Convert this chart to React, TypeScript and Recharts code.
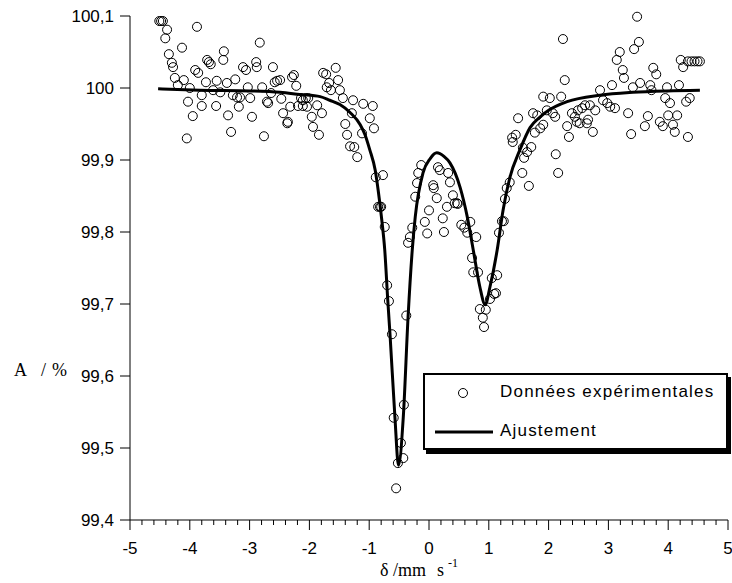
import { ComposedChart, Label, Legend, Line, Scatter, XAxis, YAxis } from "recharts";

// Spectre Mössbauer : points mesurés (δ en mm/s, A en %)
const EXP_POINTS: [number, number][] = [
  [-4.51, 100.093], [-4.48, 100.093], [-4.45, 100.093], [-4.41, 100.069], [-4.38, 100.081],
  [-4.35, 100.047], [-4.3, 100.035], [-4.28, 100.029], [-4.25, 100.014], [-4.2, 100.004],
  [-4.13, 100.056], [-4.1, 100.011], [-4.05, 99.93], [-4.03, 99.981], [-4.0, 100.0],
  [-3.95, 99.961], [-3.91, 100.025], [-3.88, 100.085], [-3.86, 100.021], [-3.8, 99.99],
  [-3.8, 99.975], [-3.73, 100.008], [-3.71, 100.039], [-3.68, 100.036], [-3.65, 100.033],
  [-3.61, 99.997], [-3.56, 99.975], [-3.55, 100.01], [-3.49, 99.994], [-3.44, 100.039],
  [-3.43, 100.051], [-3.38, 100.007], [-3.36, 99.962], [-3.31, 99.939], [-3.28, 99.99],
  [-3.24, 100.012], [-3.21, 99.987], [-3.18, 99.974], [-3.16, 99.987], [-3.11, 100.029],
  [-3.06, 100.025], [-3.03, 100.001], [-2.99, 99.986], [-2.96, 99.96], [-2.89, 100.036],
  [-2.88, 100.029], [-2.83, 100.063], [-2.79, 100.001], [-2.76, 99.933], [-2.71, 99.981],
  [-2.69, 99.979], [-2.64, 99.993], [-2.61, 100.029], [-2.58, 100.008], [-2.54, 100.01],
  [-2.49, 100.011], [-2.47, 99.985], [-2.44, 99.965], [-2.37, 99.951], [-2.36, 99.953],
  [-2.32, 99.974], [-2.29, 100.015], [-2.26, 100.018], [-2.22, 100.003], [-2.19, 99.975],
  [-2.14, 99.986], [-2.11, 99.983], [-2.11, 99.975], [-2.06, 99.986], [-2.04, 99.974],
  [-2.02, 99.986], [-1.96, 99.96], [-1.94, 99.946], [-1.87, 99.976], [-1.84, 99.935],
  [-1.79, 99.965], [-1.77, 100.021], [-1.72, 100.019], [-1.71, 100.001], [-1.67, 100.007],
  [-1.64, 99.997], [-1.56, 100.028], [-1.52, 100.011], [-1.49, 99.997], [-1.44, 99.986],
  [-1.4, 99.95], [-1.37, 99.935], [-1.32, 99.919], [-1.29, 99.965], [-1.27, 99.983],
  [-1.25, 99.918], [-1.2, 99.904], [-1.12, 99.937], [-1.1, 99.978], [-0.99, 99.958],
  [-0.94, 99.975], [-0.92, 99.944], [-0.89, 99.876], [-0.85, 99.835], [-0.82, 99.835],
  [-0.8, 99.835], [-0.77, 99.879], [-0.74, 99.807], [-0.7, 99.726], [-0.67, 99.704],
  [-0.62, 99.658], [-0.59, 99.542], [-0.55, 99.444], [-0.52, 99.479], [-0.47, 99.507],
  [-0.43, 99.486], [-0.42, 99.56], [-0.38, 99.684], [-0.35, 99.785], [-0.32, 99.793],
  [-0.28, 99.806], [-0.23, 99.849], [-0.2, 99.868], [-0.18, 99.882], [-0.13, 99.893],
  [-0.07, 99.814], [-0.03, 99.798], [0.0, 99.83], [0.07, 99.865], [0.08, 99.861],
  [0.13, 99.847], [0.15, 99.89], [0.18, 99.886], [0.23, 99.819], [0.25, 99.8],
  [0.3, 99.835], [0.32, 99.882], [0.35, 99.869], [0.4, 99.851], [0.43, 99.84],
  [0.47, 99.84], [0.48, 99.839], [0.54, 99.81], [0.59, 99.806], [0.64, 99.799],
  [0.69, 99.814], [0.72, 99.764], [0.74, 99.744], [0.79, 99.793], [0.82, 99.744],
  [0.85, 99.693], [0.9, 99.681], [0.92, 99.668], [0.95, 99.692], [1.02, 99.707],
  [1.05, 99.736], [1.09, 99.714], [1.12, 99.715], [1.14, 99.74], [1.17, 99.799],
  [1.22, 99.815], [1.25, 99.815], [1.27, 99.846], [1.3, 99.861], [1.35, 99.869],
  [1.39, 99.931], [1.4, 99.925], [1.45, 99.935], [1.49, 99.958], [1.56, 99.882],
  [1.57, 99.917], [1.59, 99.903], [1.64, 99.911], [1.67, 99.864], [1.71, 99.918],
  [1.74, 99.965], [1.77, 99.938], [1.81, 99.962], [1.86, 99.944], [1.91, 99.949],
  [1.91, 99.988], [1.97, 99.969], [2.02, 99.986], [2.07, 99.965], [2.11, 99.96],
  [2.12, 99.908], [2.16, 99.882], [2.21, 99.988], [2.24, 100.068], [2.27, 100.011],
  [2.31, 99.947], [2.34, 99.932], [2.39, 99.965], [2.44, 99.96], [2.47, 99.953],
  [2.49, 99.969], [2.52, 99.951], [2.56, 99.972], [2.61, 99.976], [2.64, 99.951],
  [2.66, 99.956], [2.69, 99.976], [2.74, 99.939], [2.78, 99.969], [2.86, 99.997],
  [2.91, 99.983], [2.98, 99.979], [3.03, 99.974], [3.06, 100.004], [3.11, 99.972],
  [3.14, 100.039], [3.19, 100.05], [3.24, 100.025], [3.26, 100.014], [3.33, 99.965],
  [3.38, 99.936], [3.41, 100.001], [3.43, 100.054], [3.48, 100.099], [3.51, 100.064],
  [3.53, 100.007], [3.61, 99.947], [3.66, 99.961], [3.7, 100.004], [3.72, 99.997],
  [3.75, 100.028], [3.8, 100.019], [3.86, 99.953], [3.91, 99.947], [3.95, 99.986],
  [3.98, 100.001], [4.0, 99.962], [4.03, 99.979], [4.08, 99.949], [4.11, 99.939],
  [4.15, 99.962], [4.18, 100.004], [4.21, 100.039], [4.25, 100.029], [4.3, 99.981],
  [4.33, 99.932], [4.36, 99.986], [4.33, 100.037], [4.39, 100.037], [4.44, 100.037],
  [4.49, 100.037], [4.53, 100.037],
];

// courbe d'ajustement
const FIT_DELTA = [
  -4.53, -3.83, -3.0, -2.49, -2.16, -1.82, -1.66, -1.49, -1.32, -1.15, -1.07, -0.99, -0.9,
  -0.85, -0.79, -0.74, -0.69, -0.65, -0.57, -0.51, -0.43, -0.35, -0.28, -0.23, -0.1, 0.02,
  0.13, 0.25, 0.35, 0.52, 0.64, 0.74, 0.85, 0.94, 1.02, 1.14, 1.24, 1.35, 1.52, 1.69, 1.86,
  2.02, 2.31, 2.86, 3.41, 3.98, 4.53,
];
const FIT_A = [
  99.999, 99.997, 99.996, 99.994, 99.991, 99.988, 99.983, 99.977, 99.966, 99.949, 99.935,
  99.914, 99.886, 99.858, 99.817, 99.775, 99.706, 99.655, 99.543, 99.476, 99.543, 99.682,
  99.775, 99.821, 99.882, 99.902, 99.91, 99.905, 99.896, 99.862, 99.821, 99.775, 99.724,
  99.699, 99.724, 99.775, 99.831, 99.875, 99.914, 99.945, 99.96, 99.97, 99.981, 99.99,
  99.994, 99.996, 99.997,
];

const X_MAJOR = [-5, -4, -3, -2, -1, 0, 1, 2, 3, 4, 5];
const X_TICKS = X_MAJOR.flatMap((v, i) =>
  i === X_MAJOR.length - 1 ? [v] : [v, v + 0.2, v + 0.4, v + 0.6, v + 0.8]
);
const Y_TICKS = [99.4, 99.5, 99.6, 99.7, 99.8, 99.9, 100, 100.1];

const SANS = "'Liberation Sans', Arial, sans-serif";
const SERIF = "'Liberation Serif', 'Times New Roman', serif";

const expData = EXP_POINTS.map(([x, y]) => ({ x, y }));
const fitData = FIT_DELTA.map((x, i) => ({ x, y: FIT_A[i] }));

const XTick = ({ x, y, payload }: any) => {
  const v = payload.value;
  const major = Math.abs(v - Math.round(v)) < 1e-6;
  return (
    <g>
      <line x1={x} x2={x} y1={y} y2={y + (major ? 10 : 5)} stroke="#000" />
      {major && (
        <text x={x} y={y + 34} textAnchor="middle" fontSize={17} fontFamily={SANS} fill="#000">
          {Math.round(v)}
        </text>
      )}
    </g>
  );
};

const Circle = ({ cx, cy }: any) => <circle cx={cx} cy={cy} r={4.5} fill="none" stroke="#000" strokeWidth={1} />;

const LegendBox = () => (
  <div
    style={{
      position: "relative",
      width: 301,
      height: 73,
      border: "2px solid #000",
      boxShadow: "3px 4px 0 #000",
      background: "#fff",
      fontFamily: SANS,
      fontSize: 17,
      letterSpacing: 1.2,
      color: "#000",
    }}
  >
    <svg width={80} height={73} style={{ position: "absolute", left: 0, top: 0 }}>
      <circle cx={38} cy={18} r={4.5} fill="none" stroke="#000" />
      <line x1={10} x2={68} y1={57} y2={57} stroke="#000" strokeWidth={3} />
    </svg>
    <span style={{ position: "absolute", left: 75, top: 7, whiteSpace: "nowrap" }}>Données expérimentales</span>
    <span style={{ position: "absolute", left: 75, top: 46, whiteSpace: "nowrap" }}>Ajustement</span>
  </div>
);

export default function App() {
  return (
    <div style={{ position: "absolute", left: 0, top: 0 }}>
      <ComposedChart width={732} height={583} margin={{ top: 16, right: 4, bottom: 0, left: 0 }}>
        <XAxis
          dataKey="x"
          type="number"
          domain={[-5, 5]}
          ticks={X_TICKS}
          interval={0}
          height={63}
          tickSize={0}
          tickMargin={0}
          tick={<XTick />}
          stroke="#000"
        >
          <Label
            content={() => (
              <text y={576} fontFamily={SERIF} fontSize={18} fill="#000">
                <tspan x={380}>δ</tspan>
                <tspan x={393}>/mm</tspan>
                <tspan x={437}>s</tspan>
                <tspan x={448} dy={-9} fontSize={12}>-1</tspan>
              </text>
            )}
          />
        </XAxis>
        <YAxis
          type="number"
          domain={[99.4, 100.1]}
          ticks={Y_TICKS}
          interval={0}
          width={130}
          tickSize={10}
          tickMargin={6}
          stroke="#000"
          tick={{ fill: "#000", fontSize: 17, fontFamily: SANS }}
          tickFormatter={(v: number) => String(v).replace(".", ",")}
        >
          <Label
            content={() => (
              <text y={376} fontFamily={SERIF} fontSize={18} fill="#000">
                <tspan x={14}>A</tspan>
                <tspan x={41}>/</tspan>
                <tspan x={52}>%</tspan>
              </text>
            )}
          />
        </YAxis>
        <Legend
          layout="horizontal"
          verticalAlign="middle"
          align="center"
          wrapperStyle={{ left: 423, top: 373, width: 305 }}
          content={() => <LegendBox />}
        />
        <Scatter data={expData} dataKey="y" shape={<Circle />} isAnimationActive={false} />
        <Line
          data={fitData}
          dataKey="y"
          type="monotone"
          stroke="#000"
          strokeWidth={3}
          dot={false}
          activeDot={false}
          isAnimationActive={false}
        />
      </ComposedChart>
    </div>
  );
}
